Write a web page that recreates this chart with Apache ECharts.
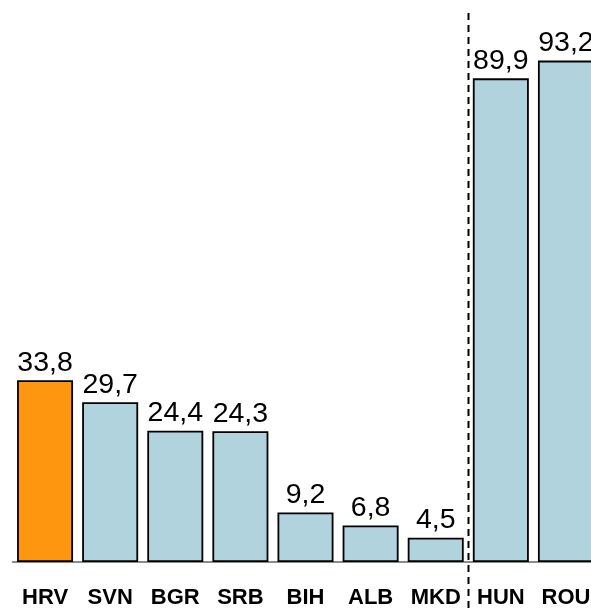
<!DOCTYPE html>
<html>
<head>
<meta charset="utf-8">
<script src="https://cdn.jsdelivr.net/npm/echarts@6/dist/echarts.min.js"></script>
<style>
  html, body { margin: 0; padding: 0; background: #fff; }
  #chart { width: 591px; height: 611px; }
</style>
</head>
<body>
<div id="chart"></div>
<script>
// Country codes along the x axis
const countries = ['HRV', 'SVN', 'BGR', 'SRB', 'BIH', 'ALB', 'MKD', 'HUN', 'ROU'];
// Values per country
const values = [33.8, 29.7, 24.4, 24.3, 9.2, 6.8, 4.5, 89.9, 93.2];
// Highlighted country
const highlight = 'HRV';
// Separator sits between these two groups
const separatorAfter = 'MKD';

const chart = echarts.init(document.getElementById('chart'), null, { renderer: 'canvas' });

const barData = values.map((v, i) => ({
  value: v,
  itemStyle: { color: countries[i] === highlight ? '#ff960f' : '#b1d3de' }
}));

chart.setOption({
  animation: false,
  // the plot runs a little past the right edge, so the last column is clipped
  grid: {
    left: 12.5, width: 586, top: 24, bottom: 49,
    containLabel: false, outerBoundsMode: 'none'
  },
  xAxis: {
    type: 'category',
    data: countries,
    axisLine: { show: true, lineStyle: { color: '#666', width: 1.5 } },
    axisTick: { show: false },
    axisLabel: {
      interval: 0,
      hideOverlap: false,
      color: '#000',
      fontFamily: 'Liberation Sans, Arial, sans-serif',
      fontWeight: 'bold',
      fontSize: 22,
      margin: 25
    }
  },
  yAxis: {
    type: 'value',
    min: 0,
    max: 100,
    show: false
  },
  series: [{
    type: 'bar',
    data: barData,
    barWidth: '86%',
    itemStyle: { borderColor: '#000', borderWidth: 1.8 },
    label: {
      show: true,
      position: 'top',
      distance: 3,
      color: '#000',
      fontFamily: 'Liberation Sans, Arial, sans-serif',
      fontSize: 28.5,
      formatter: p => String(p.value).replace('.', ',')
    }
  }]
});

// Dashed separator between the two country groups
const idx = countries.indexOf(separatorAfter);
const x0 = chart.convertToPixel({ xAxisIndex: 0 }, countries[idx]);
const x1 = chart.convertToPixel({ xAxisIndex: 0 }, countries[idx + 1]);
const sx = Math.round((x0 + x1) / 2) + 0.5;
chart.setOption({
  graphic: [{
    type: 'line',
    shape: { x1: sx, y1: 13, x2: sx, y2: 611 },
    style: { stroke: '#000', lineWidth: 2, lineDash: [7, 5] },
    z: 100
  }]
});
</script>
</body>
</html>
